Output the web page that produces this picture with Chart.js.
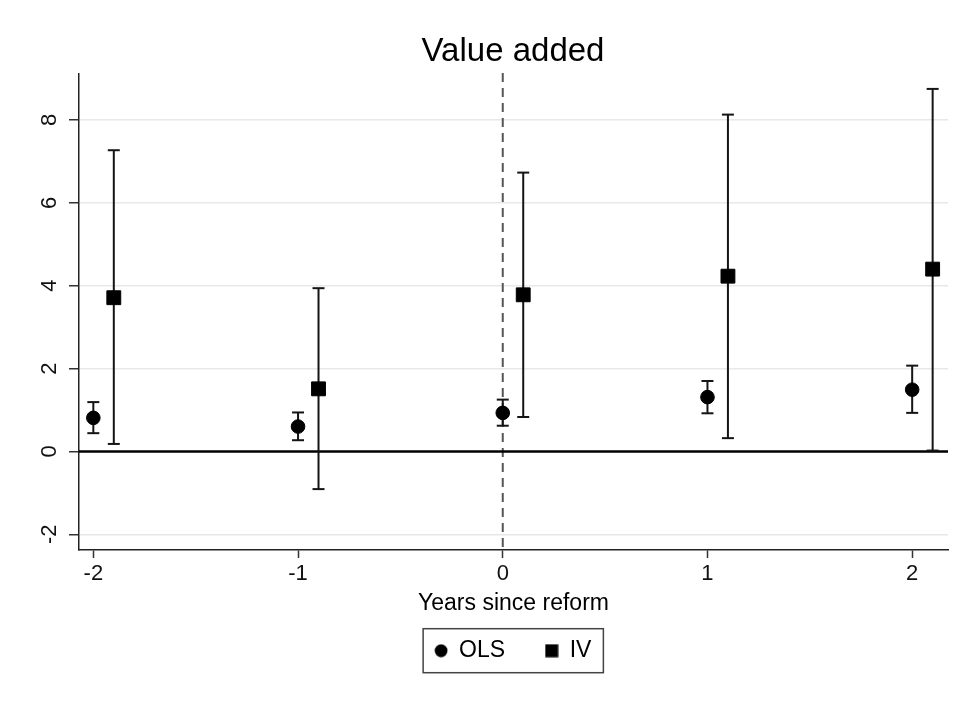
<!DOCTYPE html>
<html>
<head>
<meta charset="utf-8">
<script src="https://cdn.jsdelivr.net/npm/chart.js@4"></script>
<style>
  html, body { margin: 0; padding: 0; background: #fff; }
  canvas { display: block; }
</style>
</head>
<body>
<canvas id="c" width="965" height="704"></canvas>
<script>
// ---- data ----
const titleText = 'Value added';
const xAxisTitle = 'Years since reform';
const seriesNames = ['OLS', 'IV'];
const xTicks = [-2, -1, 0, 1, 2];
const yTicks = [-2, 0, 2, 4, 6, 8];
const yTickLabels = ['-2', '0', '2', '4', '6', '8'];

const olsX  = [-2, -1, 0, 1, 2];
const olsEst = [0.81, 0.60, 0.93, 1.31, 1.49];
const olsLo  = [0.44, 0.27, 0.62, 0.92, 0.93];
const olsHi  = [1.19, 0.94, 1.25, 1.70, 2.07];

const ivX   = [-1.9, -0.9, 0.1, 1.1, 2.1];
const ivEst = [3.71, 1.51, 3.78, 4.23, 4.40];
const ivLo  = [0.18, -0.91, 0.83, 0.32, 0.02];
const ivHi  = [7.27, 3.94, 6.73, 8.13, 8.75];

const refLineY = 0;   // solid horizontal reference line
const refLineX = 0;   // dashed vertical reference line (reform year)

// ---- helpers ----
const pts = (xs, ys) => xs.map((x, i) => ({ x: x, y: ys[i] }));
const whiskers = (xs, lo, hi) => {
  const d = [];
  xs.forEach((x, i) => { d.push({ x: x, y: lo[i] }, { x: x, y: hi[i] }, { x: x, y: null }); });
  return d;
};
const caps = (xs, lo, hi) => pts(xs, lo).concat(pts(xs, hi));

const FONT = "'Liberation Sans', Arial, Helvetica, sans-serif";
Chart.defaults.font.family = FONT;
Chart.defaults.color = '#111';

// legend icons
function makeIcon(kind) {
  const c = document.createElement('canvas');
  c.width = 14; c.height = 14;
  const g = c.getContext('2d');
  g.fillStyle = '#000';
  if (kind === 'circle') { g.beginPath(); g.arc(7, 7, 6.4, 0, Math.PI * 2); g.fill(); }
  else { g.fillRect(0.5, 0.5, 13, 13); }
  return c;
}
const legendIcons = [makeIcon('circle'), makeIcon('rect')];

const refLinesPlugin = {
  id: 'refLines',
  beforeDatasetsDraw(chart) {
    const { ctx, chartArea, scales } = chart;
    const x0 = scales.x.getPixelForValue(refLineX);
    const y0 = scales.y.getPixelForValue(refLineY);
    ctx.save();
    ctx.strokeStyle = '#555';
    ctx.lineWidth = 2;
    ctx.setLineDash([9, 6]);
    ctx.beginPath();
    ctx.moveTo(x0, chartArea.top - 1);
    ctx.lineTo(x0, chartArea.bottom);
    ctx.stroke();
    ctx.setLineDash([]);
    ctx.strokeStyle = '#000';
    ctx.lineWidth = 2.5;
    ctx.beginPath();
    ctx.moveTo(chartArea.left, y0);
    ctx.lineTo(chartArea.right, y0);
    ctx.stroke();
    ctx.restore();
  }
};

const decorPlugin = {
  id: 'decor',
  afterDraw(chart) {
    const { ctx, scales } = chart;
    // rotated y tick labels
    ctx.save();
    ctx.fillStyle = '#111';
    ctx.font = '22px ' + FONT;
    ctx.textAlign = 'center';
    ctx.textBaseline = 'middle';
    scales.y.ticks.forEach((t) => {
      const y = scales.y.getPixelForValue(t.value);
      ctx.save();
      ctx.translate(50, y);
      ctx.rotate(-Math.PI / 2);
      ctx.fillText(yTickLabels[yTicks.indexOf(t.value)], 0, 0);
      ctx.restore();
    });
    ctx.restore();
    // legend frame
    const hb = chart.legend && chart.legend.legendHitBoxes;
    if (hb && hb.length) {
      const first = hb[0], last = hb[hb.length - 1];
      const cy = first.top + first.height / 2;
      const left = first.left - 11.5;
      const right = last.left + last.width + 12;
      ctx.save();
      ctx.strokeStyle = '#444';
      ctx.lineWidth = 1.5;
      ctx.strokeRect(left, cy - 22, right - left, 44);
      ctx.restore();
    }
  }
};

const barColor = '#151515';

new Chart(document.getElementById('c'), {
  type: 'scatter',
  data: {
    datasets: [
      { label: seriesNames[0], data: pts(olsX, olsEst), pointStyle: 'circle', pointRadius: 6.8, pointHoverRadius: 6.8,
        backgroundColor: '#000', borderColor: '#000', borderWidth: 1, showLine: false },
      { label: seriesNames[1], data: pts(ivX, ivEst), pointStyle: 'rect', pointRadius: 9.8, pointHoverRadius: 9.8,
        backgroundColor: '#000', borderColor: '#000', borderWidth: 1, showLine: false },
      { label: 'OLS CI', data: whiskers(olsX, olsLo, olsHi), showLine: true, spanGaps: false,
        borderColor: barColor, borderWidth: 2, pointRadius: 0, pointHoverRadius: 0 },
      { label: 'OLS CI caps', data: caps(olsX, olsLo, olsHi), pointStyle: 'line', pointRadius: 6, pointHoverRadius: 6,
        borderColor: barColor, backgroundColor: barColor, borderWidth: 2, showLine: false },
      { label: 'IV CI', data: whiskers(ivX, ivLo, ivHi), showLine: true, spanGaps: false,
        borderColor: barColor, borderWidth: 2, pointRadius: 0, pointHoverRadius: 0 },
      { label: 'IV CI caps', data: caps(ivX, ivLo, ivHi), pointStyle: 'line', pointRadius: 6, pointHoverRadius: 6,
        borderColor: barColor, backgroundColor: barColor, borderWidth: 2, showLine: false }
    ]
  },
  options: {
    responsive: false,
    devicePixelRatio: 1,
    animation: false,
    events: [],
    layout: { padding: { left: 78, right: 17, top: 0, bottom: 31.8 } },
    plugins: {
      title: {
        display: true, text: titleText, color: '#000',
        font: { size: 33, weight: 'normal', family: FONT, lineHeight: 1.2 },
        padding: { top: 32, bottom: 2.4 }
      },
      legend: {
        display: true, position: 'bottom',
        labels: {
          usePointStyle: true, boxWidth: 13, boxHeight: 13, padding: 40, color: '#000',
          font: { size: 23, family: FONT },
          generateLabels(chart) {
            const items = Chart.defaults.plugins.legend.labels.generateLabels(chart);
            return items.filter(it => it.datasetIndex < 2)
              .map(it => Object.assign({}, it, { pointStyle: legendIcons[it.datasetIndex], lineWidth: 0 }));
          }
        }
      },
      tooltip: { enabled: false }
    },
    scales: {
      x: {
        type: 'linear', min: -2.07, max: 2.175,
        afterBuildTicks(s) { s.ticks = xTicks.map(v => ({ value: v })); },
        ticks: { color: '#111', font: { size: 22 }, padding: 3, maxRotation: 0, callback: v => String(v) },
        grid: { drawOnChartArea: false, drawTicks: true, tickLength: 8, tickColor: '#333', tickWidth: 1.5 },
        border: { display: true, color: '#222', width: 1.5 },
        title: { display: true, text: xAxisTitle, color: '#000', font: { size: 23, family: FONT, lineHeight: 1.2 },
                 padding: { top: -0.5, bottom: -18.3 } }
      },
      y: {
        type: 'linear', min: -2.38, max: 9.11,
        afterBuildTicks(s) { s.ticks = yTicks.map(v => ({ value: v })); },
        afterFit(s) { s.width = 1; },
        ticks: { color: 'rgba(0,0,0,0)', font: { size: 22 }, padding: 3 },
        grid: { drawOnChartArea: true, color: '#e8e8e8', lineWidth: 1.5, drawTicks: true, tickLength: 10,
                tickColor: '#333', tickWidth: 1.5 },
        border: { display: true, color: '#222', width: 1.5 }
      }
    }
  },
  plugins: [refLinesPlugin, decorPlugin]
});
</script>
</body>
</html>
